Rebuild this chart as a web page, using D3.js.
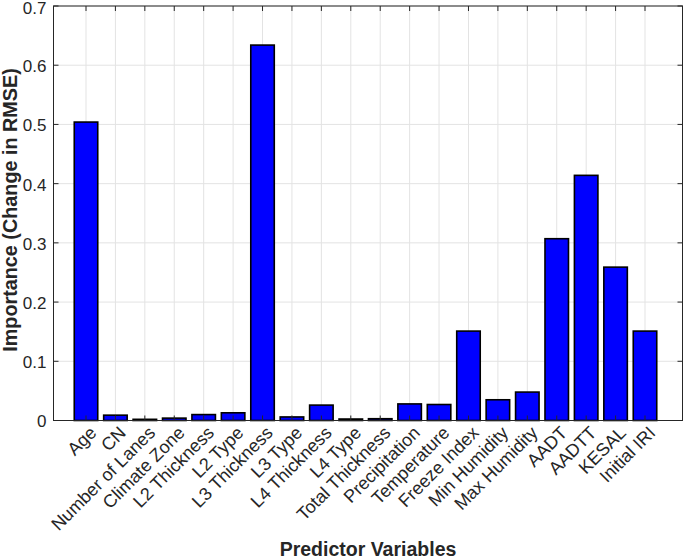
<!DOCTYPE html>
<html><head><meta charset="utf-8">
<script src="https://cdn.jsdelivr.net/npm/d3@7"></script>
<style>body{margin:0;background:#fff;} svg{display:block;}</style>
</head><body>
<svg id="c" width="685" height="560"></svg>
<script>
const categories = ["Age","CN","Number of Lanes","Climate Zone","L2 Thickness","L2 Type","L3 Thickness","L3 Type","L4 Thickness","L4 Type","Total Thickness","Precipitation","Temperature","Freeze Index","Min Humidity","Max Humidity","AADT","AADTT","KESAL","Initial IRI"];
const importance = [0.504,0.009,0.002,0.004,0.010,0.013,0.634,0.006,0.026,0.0025,0.003,0.028,0.027,0.151,0.035,0.048,0.307,0.414,0.259,0.151];
const yTicks = [0,0.1,0.2,0.3,0.4,0.5,0.6,0.7];
const yLabel = "Importance (Change in RMSE)";
const xLabel = "Predictor Variables";

const svg = d3.select("#c");
const L = 53.5, R = 682.5, T = 6, B = 420.5;
const x = d3.scaleLinear().domain([0, categories.length - 1]).range([86, 645]);
const y = d3.scaleLinear().domain([0, 0.7]).range([B, T]);
const bw = 23.5;
const axisColor = "#262626";
const font = "Liberation Sans, Arial, Helvetica, sans-serif";

// grid
const g = svg.append("g");
g.selectAll(".gy").data(yTicks).join("line")
  .attr("x1", L).attr("x2", R).attr("y1", d => y(d)).attr("y2", d => y(d))
  .attr("stroke", "#e3e3e3").attr("stroke-width", 1);
g.selectAll(".gx").data(categories).join("line")
  .attr("x1", (d,i) => x(i)).attr("x2", (d,i) => x(i)).attr("y1", T).attr("y2", B)
  .attr("stroke", "#e3e3e3").attr("stroke-width", 1);

// bars
svg.append("g").selectAll("rect").data(importance).join("rect")
  .attr("x", (d,i) => x(i) - bw/2).attr("width", bw)
  .attr("y", d => y(d)).attr("height", d => B - y(d))
  .attr("fill", "#0000ff").attr("stroke", "#000").attr("stroke-width", 1.6);

// ticks on all sides (inward)
const tl = 5;
const tk = svg.append("g").attr("stroke", axisColor).attr("stroke-width", 1);
categories.forEach((c,i) => {
  tk.append("line").attr("x1", x(i)).attr("x2", x(i)).attr("y1", B).attr("y2", B - tl);
  tk.append("line").attr("x1", x(i)).attr("x2", x(i)).attr("y1", T).attr("y2", T + tl);
});
yTicks.forEach(v => {
  tk.append("line").attr("x1", L).attr("x2", L + tl).attr("y1", y(v)).attr("y2", y(v));
  tk.append("line").attr("x1", R).attr("x2", R - tl).attr("y1", y(v)).attr("y2", y(v));
});
// box
svg.append("rect").attr("x", L).attr("y", T).attr("width", R - L).attr("height", B - T)
  .attr("fill", "none").attr("stroke", axisColor).attr("stroke-width", 1);

// y tick labels
svg.append("g").selectAll("text").data(yTicks).join("text")
  .attr("x", L - 7).attr("y", d => Math.max(y(d) + 1, 8.5)).attr("dy", "0.35em")
  .attr("text-anchor", "end").attr("font-family", font).attr("font-size", 17)
  .attr("fill", axisColor).text(d => d === 0 ? "0" : d3.format(".1f")(d));

// x tick labels rotated
svg.append("g").selectAll("text").data(categories).join("text")
  .attr("transform", (d,i) => `translate(${x(i) + 7},${B + 9}) rotate(-45)`)
  .attr("text-anchor", "end").attr("dy", "0.35em")
  .attr("font-family", font).attr("font-size", 18)
  .attr("fill", axisColor).text(d => d);

// axis titles
svg.append("text").attr("transform", `translate(10,210) rotate(-90)`)
  .attr("text-anchor", "middle").attr("dy", "0.35em")
  .attr("font-family", font).attr("font-size", 19.8).attr("font-weight", "bold")
  .attr("fill", axisColor).text(yLabel);
svg.append("text").attr("x", 368).attr("y", 556)
  .attr("text-anchor", "middle")
  .attr("font-family", font).attr("font-size", 19.5).attr("font-weight", "bold")
  .attr("fill", axisColor).text(xLabel);
</script>
</body></html>
